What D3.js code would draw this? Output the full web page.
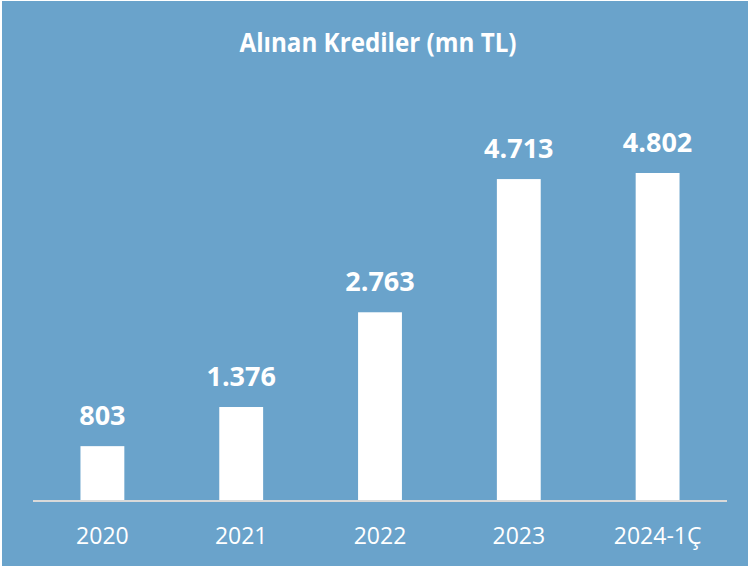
<!DOCTYPE html>
<html lang="tr">
<head>
    <meta charset="UTF-8">
    <title>Alınan Krediler</title>
    <script src="https://d3js.org/d3.v7.min.js"></script>
    <style>
        body { margin: 0; background: #fff; }
        svg { display: block; }
        text { font-family: "Open Sans", sans-serif; fill: #fff; }
    </style>
</head>
<body>
    <div id="chart"></div>
    <script>
        // data
        const years = ["2020", "2021", "2022", "2023", "2024-1Ç"];
        const credits = [803, 1376, 2763, 4713, 4802];
        const valueLabels = ["803", "1.376", "2.763", "4.713", "4.802"];
        const title = "Alınan Krediler (mn TL)";

        const width = 751, height = 569;
        const margin = { top: 173, right: 24, bottom: 68, left: 33 };

        const svg = d3.select("#chart")
            .append("svg")
            .attr("width", width)
            .attr("height", height);

        // blue panel
        svg.append("rect")
            .attr("x", 2)
            .attr("y", 1)
            .attr("width", width - 5)
            .attr("height", height - 4)
            .attr("fill", "#6aa3cb");

        const x = d3.scaleBand()
            .domain(years)
            .range([margin.left, width - margin.right])
            .paddingInner(0.684)
            .paddingOuter(0.342);

        const y = d3.scaleLinear()
            .domain([0, d3.max(credits)])
            .range([height - margin.bottom, margin.top]);

        // bars
        svg.selectAll(".bar")
            .data(credits)
            .enter()
            .append("rect")
            .attr("class", "bar")
            .attr("x", (d, i) => x(years[i]))
            .attr("y", d => y(d))
            .attr("width", x.bandwidth())
            .attr("height", d => y(0) - y(d))
            .attr("fill", "#fff");

        // value labels
        svg.selectAll(".val")
            .data(credits)
            .enter()
            .append("text")
            .attr("class", "val")
            .attr("x", (d, i) => x(years[i]) + x.bandwidth() / 2)
            .attr("y", d => y(d) - 21)
            .attr("text-anchor", "middle")
            .style("font-size", "27px")
            .style("font-weight", "bold")
            .text((d, i) => valueLabels[i]);

        // x axis
        const xAxis = svg.append("g")
            .attr("transform", "translate(0," + y(0) + ")")
            .call(d3.axisBottom(x).tickSize(0).tickPadding(26.5));
        xAxis.select(".domain")
            .attr("stroke", "#d9d9d9")
            .attr("stroke-width", 2)
            .attr("d", "M" + margin.left + ",0H" + (width - margin.right));
        xAxis.selectAll("text")
            .style("font-size", "23px")
            .attr("fill", "#fff")
            .attr("dy", "0.71em");

        // title (squeezed a bit to get the narrow look of the original)
        svg.append("text")
            .attr("x", 378)
            .attr("y", 52)
            .attr("text-anchor", "middle")
            .attr("textLength", 277)
            .attr("lengthAdjust", "spacingAndGlyphs")
            .style("font-size", "27px")
            .style("font-weight", "bold")
            .text(title);
    </script>
</body>
</html>
